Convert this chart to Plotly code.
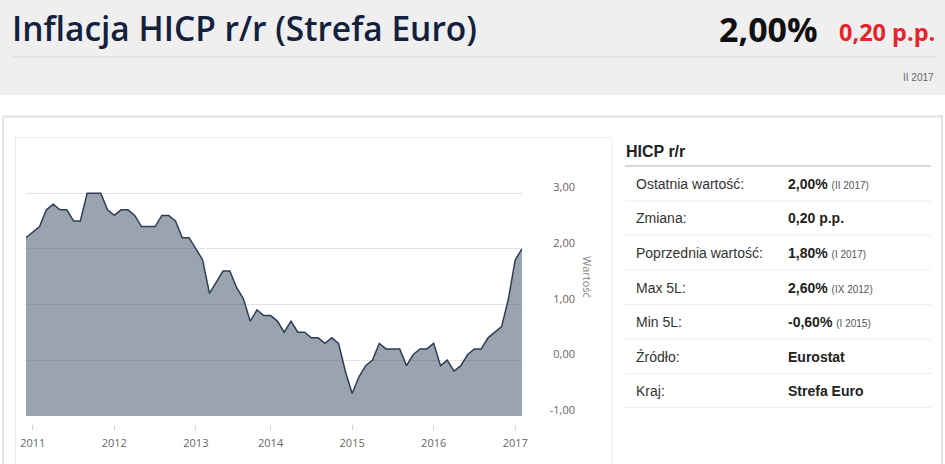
import plotly.graph_objects as go

W, H = 945, 464

# ---------------- data ----------------
months = [
    "2010-12",
    "2011-01", "2011-02", "2011-03", "2011-04", "2011-05", "2011-06",
    "2011-07", "2011-08", "2011-09", "2011-10", "2011-11", "2011-12",
    "2012-01", "2012-02", "2012-03", "2012-04", "2012-05", "2012-06",
    "2012-07", "2012-08", "2012-09", "2012-10", "2012-11", "2012-12",
    "2013-01", "2013-02", "2013-04", "2013-05", "2013-06",
    "2013-07", "2013-08", "2013-09", "2013-10", "2013-11", "2013-12",
    "2014-01", "2014-02", "2014-03", "2014-04", "2014-05", "2014-06",
    "2014-07", "2014-08", "2014-09", "2014-10", "2014-11", "2014-12",
    "2015-01", "2015-02", "2015-03", "2015-04", "2015-05", "2015-06",
    "2015-07", "2015-08", "2015-09", "2015-10", "2015-11", "2015-12",
    "2016-01", "2016-02", "2016-03", "2016-04", "2016-05", "2016-06",
    "2016-07", "2016-08", "2016-09", "2016-10", "2016-11", "2016-12",
    "2017-01", "2017-02",
]
values = [
    2.2,
    2.3, 2.4, 2.7, 2.8, 2.7, 2.7, 2.5, 2.5, 3.0, 3.0, 3.0, 2.7,
    2.6, 2.7, 2.7, 2.6, 2.4, 2.4, 2.4, 2.6, 2.6, 2.5, 2.2, 2.2,
    2.0, 1.8, 1.2, 1.4, 1.6, 1.6, 1.3, 1.1, 0.7, 0.9, 0.8,
    0.8, 0.7, 0.5, 0.7, 0.5, 0.5, 0.4, 0.4, 0.3, 0.4, 0.3, -0.2,
    -0.6, -0.3, -0.1, 0.0, 0.3, 0.2, 0.2, 0.2, -0.1, 0.1, 0.2, 0.2,
    0.3, -0.1, 0.0, -0.2, -0.1, 0.1, 0.2, 0.2, 0.4, 0.5, 0.6, 1.1,
    1.8, 2.0,
]
tick_months = ["2011-01", "2012-01", "2013-01", "2014-01", "2015-01", "2016-01", "2017-01"]
year_labels = ["2011", "2012", "2013", "2014", "2015", "2016", "2017"]
y_ticks = [-1, 0, 1, 2, 3]
y_tick_labels = ["-1,00", "0,00", "1,00", "2,00", "3,00"]
Y_MIN = -1

title_text = "Inflacja HICP r/r (Strefa Euro)"
last_value = "2,00%"
change_value = "0,20 p.p."
period_text = "II 2017"
panel_title = "HICP r/r"
row_labels = ["Ostatnia wartość:", "Zmiana:", "Poprzednia wartość:", "Max 5L:",
              "Min 5L:", "Źródło:", "Kraj:"]
row_values = ["2,00%", "0,20 p.p.", "1,80%", "2,60%", "-0,60%", "Eurostat", "Strefa Euro"]
row_notes = ["(II 2017)", "", "(I 2017)", "(IX 2012)", "(I 2015)", "", ""]


def px(x):
    return x / W


def py(y):
    return 1 - y / H


fig = go.Figure()
fig.add_trace(go.Scatter(
    x=months, y=[Y_MIN] * len(months), mode="lines",
    line=dict(width=0, color="rgba(0,0,0,0)"), hoverinfo="skip", showlegend=False,
))
fig.add_trace(go.Scatter(
    x=months, y=values, mode="lines", fill="tonexty",
    fillcolor="rgba(52,73,94,0.5)",
    line=dict(color="#2c3e57", width=1.5), showlegend=False,
))

shapes = [
    # header band
    dict(type="rect", xref="paper", yref="paper", x0=0, x1=1, y0=py(95), y1=1,
         fillcolor="#efefef", line=dict(width=0), layer="below"),
    dict(type="line", xref="paper", yref="paper", x0=px(12), x1=px(935), y0=py(57), y1=py(57),
         line=dict(color="#d4d4d4", width=1), layer="below"),
    # outer container
    dict(type="rect", xref="paper", yref="paper", x0=px(3), x1=px(942), y0=py(480), y1=py(116.5),
         fillcolor="white", line=dict(color="#e2e2e2", width=2), layer="below"),
    # chart box
    dict(type="rect", xref="paper", yref="paper", x0=px(15.5), x1=px(612), y0=py(480), y1=py(137.5),
         fillcolor="white", line=dict(color="#ececec", width=1), layer="below"),
    # panel heading line
    dict(type="line", xref="paper", yref="paper", x0=px(625), x1=px(931), y0=py(166), y1=py(166),
         line=dict(color="#b0b0b0", width=1), layer="below"),
]
for sep in [201, 235, 270, 304.5, 339, 373.5, 407.5]:
    shapes.append(dict(type="line", xref="paper", yref="paper", x0=px(625), x1=px(931),
                       y0=py(sep), y1=py(sep), line=dict(color="#ececec", width=1), layer="below"))

annotations = [
    dict(text=title_text, x=px(10), y=py(28), xanchor="left", yanchor="middle",
         font=dict(family="Open Sans", size=33.5, color="#14213d", weight=600)),
    dict(text="<b>" + last_value + "</b>", x=px(820), y=py(29), xanchor="right", yanchor="middle",
         font=dict(family="Open Sans", size=34, color="#111111")),
    dict(text="<b>" + change_value + "</b>", x=px(937), y=py(32), xanchor="right", yanchor="middle",
         font=dict(family="Open Sans", size=23.5, color="#e8232c")),
    dict(text=period_text, x=px(936), y=py(77), xanchor="right", yanchor="middle",
         font=dict(family="Liberation Sans", size=10, color="#666666")),
    dict(text="<b>" + panel_title + "</b>", x=px(624), y=py(151.5), xanchor="left", yanchor="middle",
         font=dict(family="Liberation Sans", size=16, color="#222222")),
    dict(text="Wartość", x=px(588), y=py(277), xanchor="center", yanchor="middle", textangle=90,
         font=dict(family="Open Sans", size=11, color="#888888")),
]
row_centers = [184, 218, 252.5, 287.5, 322, 356.5, 390.5]
for lab, val, note, yc in zip(row_labels, row_values, row_notes, row_centers):
    annotations.append(dict(text=lab, x=px(634), y=py(yc), xanchor="left", yanchor="middle",
                            font=dict(family="Liberation Sans", size=14, color="#333333")))
    t = "<b>" + val + "</b>"
    if note:
        t += " <span style='font-size:10px;color:#555555'>" + note + "</span>"
    annotations.append(dict(text=t, x=px(786), y=py(yc), xanchor="left", yanchor="middle",
                            font=dict(family="Liberation Sans", size=14, color="#222222")))
for a in annotations:
    a.update(xref="paper", yref="paper", showarrow=False)

fig.update_layout(
    width=W, height=H, margin=dict(l=0, r=0, t=0, b=0, pad=0, autoexpand=False), autosize=False,
    paper_bgcolor="white", plot_bgcolor="rgba(0,0,0,0)",
    shapes=shapes, annotations=annotations, showlegend=False,
    xaxis=dict(
        type="category", domain=[px(26), px(522)], range=[0, len(months) - 1],
        tickvals=tick_months, ticktext=year_labels, ticks="outside", ticklen=5,
        tickcolor="#ccd6eb", tickwidth=1, showgrid=False, zeroline=False, showline=False,
        tickfont=dict(family="Open Sans", size=11, color="#666666"), ticklabelstandoff=4,
        automargin=False,
    ),
    yaxis=dict(
        domain=[py(423.5), py(137.5)], range=[-1.14, 4.0],
        anchor="free", position=px(575), side="left",
        tickvals=y_ticks, ticktext=y_tick_labels, ticks="",
        showgrid=True, gridcolor="#e3e3e3", gridwidth=1, zeroline=False, showline=False,
        ticklabelposition="outside top", ticklabelshift=2, automargin=False,
        tickfont=dict(family="Open Sans", size=11, color="#666666"),
    ),
)

post = ("document.body.style.margin='0';document.body.style.padding='0';"
        "document.body.style.overflow='hidden';"
        "document.documentElement.style.overflow='hidden';")
fig.write_html("out.html", config={"displayModeBar": False, "responsive": False},
               post_script=post, default_width="945px", default_height="464px")
